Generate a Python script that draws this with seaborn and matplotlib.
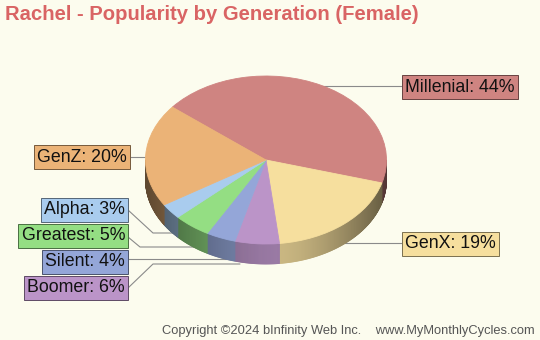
import numpy as np
import matplotlib
matplotlib.use("Agg")
import matplotlib.pyplot as plt
import seaborn as sns
from matplotlib.colors import to_rgb
from matplotlib.collections import PolyCollection

# ---- data ----
categories = ["Millenial", "GenX", "Boomer", "Silent", "Greatest", "Alpha", "GenZ"]
values = [44, 19, 6, 4, 5, 3, 20]
colors = ["#CF8481", "#F6DF9E", "#BB94C8", "#94A6D8", "#94DE83", "#A9CCEE", "#EBB377"]
title = "Rachel - Popularity by Generation (Female)"
footer = "Copyright \u00a92024 bInfinity Web Inc.    www.MyMonthlyCycles.com"

sns.set_theme(style="white")
plt.rcParams['font.family'] = ['Liberation Sans', 'DejaVu Sans']
BG = "#FCFCEE"
W, H = 540, 340
fig = plt.figure(figsize=(W / 100, H / 100), dpi=100, facecolor=BG)
ax = fig.add_axes([0, 0, 1, 1])
ax.set_facecolor(BG)

CX, CY, RX, RY, DEPTH = 266, 160, 120.5, 84, 20


def d(px, py):
    return ((px - CX) / RX, (CY - py) / RY)


START = 141
wedges, _ = ax.pie(values, colors=colors, startangle=START, counterclock=False,
                   radius=1, wedgeprops=dict(linewidth=0.6, zorder=3))
for w in wedges:
    w.set_edgecolor(w.get_facecolor())

# side wall
fr = np.array(values, dtype=float) / sum(values)
bounds = START - 360 * np.concatenate([[0], np.cumsum(fr)])
dep = DEPTH / RY


def shade(x):
    u = (0.1 - x) / 1.1 if x < 0.1 else (x - 0.1) / 0.9
    return 0.82 - 0.42 * u ** 1.5


polys, fcs = [], []
for i, (a0, a1) in enumerate(zip(bounds[:-1], bounds[1:])):
    hi, lo = min(a0, 0), max(a1, -180)
    if hi <= lo:
        continue
    n = max(2, int((hi - lo) / 0.5) + 1)
    ts = np.radians(np.linspace(hi, lo, n))
    base = np.array(to_rgb(colors[i]))
    for t1, t2 in zip(ts[:-1], ts[1:]):
        x1, y1, x2, y2 = np.cos(t1), np.sin(t1), np.cos(t2), np.sin(t2)
        polys.append([(x1, y1), (x2, y2), (x2, y2 - dep), (x1, y1 - dep)])
        fcs.append(np.clip(base * shade((x1 + x2) / 2), 0, 1))
pc = PolyCollection(polys, facecolors=fcs, edgecolors=fcs, linewidths=0.6, zorder=2)
ax.add_collection(pc)

# leader lines (pixel coordinates)
leaders = {
    "Millenial": [(322, 86), (402, 86)],
    "GenX": [(343, 243), (402, 243)],
    "GenZ": [(128, 157), (150, 157)],
    "Alpha": [(128, 210), (153, 233), (180, 233)],
    "Greatest": [(128, 237), (140, 247), (207, 247)],
    "Silent": [(128, 259), (237, 259)],
    "Boomer": [(128, 288), (153, 264), (240, 264)],
}
for k, pts in leaders.items():
    xy = np.array([d(*p) for p in pts])
    ax.plot(xy[:, 0], xy[:, 1], color="#8a8a8a", lw=0.8, zorder=1)

# labels
label_pos = {
    "Millenial": (405, 87, "left"),
    "GenX": (405, 244, "left"),
    "GenZ": (127, 157, "right"),
    "Alpha": (125, 210, "right"),
    "Greatest": (125, 236, "right"),
    "Silent": (125, 262, "right"),
    "Boomer": (125, 288, "right"),
}
for cat, val, col in zip(categories, values, colors):
    px, py, ha = label_pos[cat]
    x, y = d(px, py)
    edge = np.array(to_rgb(col)) * 0.5
    ax.text(x, y, f"{cat}: {val}%", ha=ha, va="center", fontsize=12.8, color="#111111",
            zorder=5,
            bbox=dict(boxstyle="square,pad=0.17", fc=col, ec=edge, lw=0.7))

ax.set_aspect("auto")
ax.set_xlim(-CX / RX, (W - CX) / RX)
ax.set_ylim(-(H - CY) / RY, CY / RY)
ax.axis("off")

fig.text(5 / W, 1 - 15 / H, title, ha="left", va="center", fontsize=14.6,
         fontweight="bold", color="#D96464")
fig.text(535 / W, 1 - 331 / H, footer, ha="right", va="center", fontsize=9.3,
         color="#555555")

fig.savefig("out.png", dpi=100, facecolor=BG)
